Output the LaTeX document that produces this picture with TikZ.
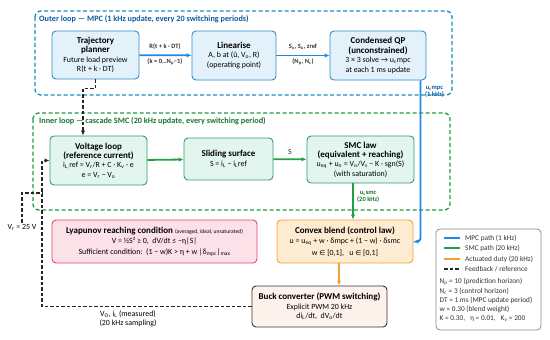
\documentclass[tikz,border=0pt]{standalone}
\usepackage{fontspec}
\setmainfont{Carlito}
\newfontfamily\symf{DejaVu Sans}
\usetikzlibrary{arrows.meta,calc}
\definecolor{mpcblue}{HTML}{1E88E5}
\definecolor{cblue}{HTML}{1B8CC0}
\definecolor{tblue}{HTML}{0D5A9E}
\definecolor{bxblue}{HTML}{2F8CC6}
\definecolor{fblue}{HTML}{E3F1FB}
\definecolor{smcgreen}{HTML}{1FA043}
\definecolor{cgreen}{HTML}{1E9A45}
\definecolor{tgreen}{HTML}{14762E}
\definecolor{bxgreen}{HTML}{2E9E6E}
\definecolor{fgreen}{HTML}{E2F5EE}
\definecolor{dorange}{HTML}{F5A030}
\definecolor{forange}{HTML}{FDEBD2}
\definecolor{bpink}{HTML}{E5456B}
\definecolor{fpink}{HTML}{FDE1E9}
\definecolor{fbuck}{HTML}{FDF2EC}
\definecolor{txt}{HTML}{333333}
\newcommand{\tf}{\fontsize{9}{10.4}\selectfont\bfseries}
\newcommand{\bft}{\fontsize{7.9}{9.4}\selectfont}
\newcommand{\sbs}[1]{\textsubscript{#1}}
\begin{document}
\begin{tikzpicture}[x=1pt,y=-1pt,
  box/.style={rounded corners=4pt, line width=0.9pt, align=center, inner sep=1pt, text=black, font=\bft},
  bluebox/.style={box, draw=bxblue, fill=fblue},
  greenbox/.style={box, draw=bxgreen, fill=fgreen},
  container/.style={rounded corners=6pt, line width=1.3pt, dash pattern=on 4pt off 2.5pt},
  tip/.style={-{Latex[length=5pt,width=4.5pt]}},
  mpcp/.style={tip, draw=mpcblue, line width=1.8pt, rounded corners=3pt},
  smcp/.style={tip, draw=smcgreen, line width=1.8pt},
  dutyp/.style={tip, draw=dorange, line width=1.8pt},
  fbp/.style={draw=black!85, line width=1.1pt, dash pattern=on 3.5pt off 2pt},
  elab/.style={font=\fontsize{6.5}{7.5}\selectfont\bfseries, align=center, inner sep=1pt},
]
\useasboundingbox (0,0) rectangle (550,340);

% containers
\draw[container, draw=cblue] (35,11) rectangle (452,95);
\draw[container, draw=cgreen] (33,113) rectangle (450,210);
\node[anchor=west, text=tblue, font=\fontsize{8.2}{9}\selectfont\bfseries, inner sep=0] (tout) at (39,19.5) {Outer loop — MPC (1 kHz update, every 20 switching periods)};
\node[anchor=west, text=tgreen, font=\fontsize{8.2}{9}\selectfont\bfseries, inner sep=0] (tin) at (39,121.5) {Inner loop — cascade SMC (20 kHz update, every switching period)};

% outer loop boxes
\node[bluebox, minimum width=87pt, minimum height=48pt] (traj) at (95.5,55)
  {\tf Trajectory\\ \tf planner\\ Future load preview\\ R(t + k · DT)};
\node[bluebox, minimum width=84pt, minimum height=49pt] (lin) at (234,55.5)
  {\tf Linearise\\ A, b at (û, V\sbs{o}, R)\\ (operating point)};
\node[bluebox, minimum width=96pt, minimum height=49pt] (qp) at (378,55.5)
  {\tf Condensed QP\\ \tf (unconstrained)\\ 3 × 3 solve → u\sbs{c}mpc\\ at each 1 ms update};

% inner loop boxes
\node[greenbox, minimum width=97pt, minimum height=49pt] (volt) at (98.5,160.5)
  {\tf Voltage loop\\ \tf (reference current)\\ i\sbs{L,}ref = V\sbs{r}/R + C · K\sbs{v} · e\\ e = V\sbs{r} − V\sbs{o}};
\node[greenbox, minimum width=89pt, minimum height=42pt] (slide) at (228.5,159)
  {\tf Sliding surface\\ S = i\sbs{L} − i\sbs{L}ref};
\node[greenbox, minimum width=107pt, minimum height=47pt] (smc) at (360.5,159.5)
  {\tf SMC law\\ \tf (equivalent + reaching)\\ u\sbs{eq} + u\sbs{n} = V\sbs{o}/V\sbs{s} − K · sgn(S)\\ (with saturation)};

% lower boxes
\node[box, draw=bpink, fill=fpink, minimum width=205pt, minimum height=43pt] (lyap) at (154.5,241.5)
  {\tf Lyapunov reaching condition {\mdseries\fontsize{5.6}{7}\selectfont (averaged, ideal, unsaturated)}\\[1pt]
   V = ½S² ≥ 0,\ \ dV/dt ≤ −η|S|\\[1pt]
   Sufficient condition:\ \ (1 − w)K > η + w |δ\sbs{mpc}|\sbs{max}};
\node[box, draw=dorange, fill=forange, minimum width=136pt, minimum height=43pt] (conv) at (345,241.5)
  {\tf Convex blend (control law)\\[1pt]
   u = u\sbs{eq} + w · δmpc + (1 − w) · δsmc\\[2pt]
   w {\symf\fontsize{7}{8}\selectfont ∈} [0,1],\ \ \ u {\symf\fontsize{7}{8}\selectfont ∈} [0,1]};
\node[box, draw=black!80, fill=fbuck, minimum width=135pt, minimum height=41pt] (buck) at (319.5,306.5)
  {\tf Buck converter (PWM switching)\\ Explicit PWM 20 kHz\\ di\sbs{L}/dt,\ \ dV\sbs{o}/dt};

% MPC path arrows
\draw[mpcp] (traj) -- (lin);
\node[elab, text=txt] (l1a) at (165,46.5) {R(t + k · DT)};
\node[elab, text=txt] (l1b) at (165,62) {(k = 0…N\sbs{p}−1)};
\draw[mpcp] (lin) -- (qp);
\node[elab, text=txt] (l2a) at (303,46.5) {S\sbs{x}, S\sbs{u}, zref};
\node[elab, text=txt] (l2b) at (303,62) {(N\sbs{p}, N\sbs{c})};
\draw[mpcp] ($(qp.south east)+(-6,0)$) |- (conv.east);
\node[elab, text=tblue, anchor=west] (l3) at (424,92) {u\sbs{c}mpc\\(1 kHz)};

% SMC path arrows
\draw[smcp] (volt) -- (slide);
\draw[smcp] (slide) -- node[above, font=\bft, text=txt] {S} (smc);
\coordinate (s1) at (353,0);
\draw[smcp] (smc.south -| s1) -- (conv.north -| s1);
\node[elab, text=tgreen, anchor=west] (l4) at (356,197) {u\sbs{c}smc\\(20 kHz)};

% duty
\coordinate (o1) at (339,0);
\draw[dutyp] (conv.south -| o1) -- (buck.north -| o1);

% feedback / reference
\coordinate (f1) at (83,0);
\draw[fbp, tip] (traj.south) -- ++(0,9) -| (volt.north -| f1);
\coordinate (fbx) at (42,0);
\draw[fbp, tip] (buck.west) -| (fbx |- volt.west) -- (volt.west);
\node[font=\bft, text=black, inner sep=1pt] (vr) at (22,227) {V\sbs{r} = 25 V};
\coordinate (vrj) at (42,193);
\draw[fbp] (vr.north) |- (vrj);
\node[font=\bft, text=black, align=center, inner sep=0] (meas) at (128,319) {V\sbs{O}, i\sbs{L} (measured)\\(20 kHz sampling)};

% legend
\node[draw=black!45, line width=0.8pt, rounded corners=4pt, minimum width=105pt, minimum height=101pt, fill=white] (leg) at (488.5,279.5) {};
\draw[draw=mpcblue, line width=1.8pt] (444,238) -- (460,238);
\draw[draw=smcgreen, line width=1.8pt] (444,248) -- (460,248);
\draw[draw=dorange, line width=1.8pt] (444,259) -- (460,259);
\draw[fbp, line width=1.3pt] (444,269) -- (460,269);
\begin{scope}[every node/.style={anchor=west, inner sep=0, font=\fontsize{7.3}{8}\selectfont, text=txt}]
\node (g1) at (465,238) {MPC path (1 kHz)};
\node (g2) at (465,248) {SMC path (20 kHz)};
\node (g3) at (465,259) {Actuated duty (20 kHz)};
\node (g4) at (465,269) {Feedback / reference};
\node (g5) at (439.5,282) {N\sbs{p} = 10 (prediction horizon)};
\node (g6) at (439.5,291.5) {N\sbs{c} = 3 (control horizon)};
\node (g7) at (439.5,300.5) {DT = 1 ms (MPC update period)};
\node (g8) at (439.5,309.5) {w = 0.30 (blend weight)};
\node (g9) at (439.5,318.5) {K = 0.30,\ \ \ η = 0.01,\ \ \ K\sbs{v} = 200};
\end{scope}
\end{tikzpicture}
\end{document}
